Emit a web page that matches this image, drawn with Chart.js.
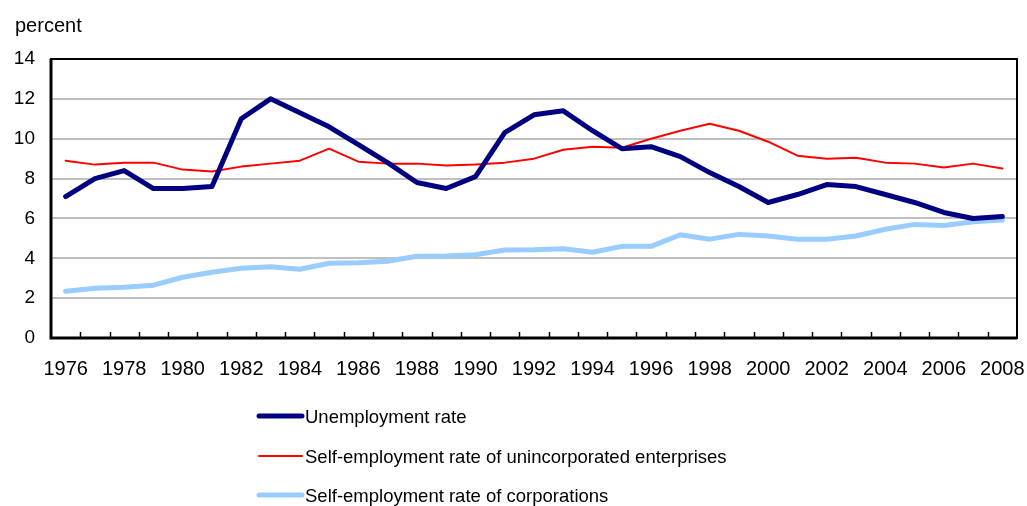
<!DOCTYPE html>
<html>
<head>
<meta charset="utf-8">
<script src="https://cdn.jsdelivr.net/npm/chart.js@4"></script>
<style>
  html, body { margin: 0; padding: 0; background: #fff; }
  #wrap { width: 1027px; height: 506px; }
</style>
</head>
<body>
<div id="wrap"><canvas id="myChart"></canvas></div>
<script>
var years = ['1976','1977','1978','1979','1980','1981','1982','1983','1984','1985','1986',
             '1987','1988','1989','1990','1991','1992','1993','1994','1995','1996','1997',
             '1998','1999','2000','2001','2002','2003','2004','2005','2006','2007','2008'];

var unemployment = [7.1, 8.0, 8.4, 7.5, 7.5, 7.6, 11.0, 12.0, 11.3, 10.6, 9.7,
                    8.8, 7.8, 7.5, 8.1, 10.3, 11.2, 11.4, 10.4, 9.5, 9.6, 9.1,
                    8.3, 7.6, 6.8, 7.2, 7.7, 7.6, 7.2, 6.8, 6.3, 6.0, 6.1];

var unincorporated = [8.9, 8.7, 8.8, 8.8, 8.45, 8.35, 8.6, 8.75, 8.9, 9.5, 8.85,
                      8.75, 8.75, 8.65, 8.7, 8.8, 9.0, 9.45, 9.6, 9.55, 10.0, 10.4,
                      10.75, 10.4, 9.85, 9.15, 9.0, 9.05, 8.8, 8.75, 8.55, 8.75, 8.5];

var corporations = [2.35, 2.5, 2.55, 2.65, 3.05, 3.3, 3.5, 3.58, 3.45, 3.75, 3.78,
                    3.85, 4.1, 4.12, 4.18, 4.42, 4.43, 4.48, 4.3, 4.6, 4.6, 5.18,
                    4.96, 5.2, 5.12, 4.96, 4.96, 5.12, 5.46, 5.7, 5.64, 5.83, 5.92];

var seriesNames = ['Unemployment rate',
                   'Self-employment rate of unincorporated enterprises',
                   'Self-employment rate of corporations'];

var yTicks = [0, 2, 4, 6, 8, 10, 12, 14];

var fontFamily = 'Arial, "Liberation Sans", sans-serif';

// frame, inward x ticks, unit label and stacked legend
var decorations = {
    id: 'decorations',
    afterDatasetsDraw: function (chart) {
        var ctx = chart.ctx;
        var area = chart.chartArea;
        var xs = chart.scales.x;
        var step = (area.right - area.left) / years.length;
        ctx.save();
        ctx.strokeStyle = '#000';
        ctx.lineWidth = 1.5;
        for (var k = 1; k < years.length; k++) {
            var px = Math.round(xs.getPixelForValue(k) - step / 2) + 0.5;
            ctx.beginPath();
            ctx.moveTo(px, area.bottom);
            ctx.lineTo(px, area.bottom - 6);
            ctx.stroke();
        }
        ctx.lineWidth = 2;
        ctx.strokeRect(area.left, area.top, area.right - area.left, area.bottom - area.top);
        ctx.lineWidth = 3;
        ctx.beginPath();
        ctx.moveTo(area.left, area.top);
        ctx.lineTo(area.left, area.bottom);
        ctx.lineTo(area.right, area.bottom);
        ctx.stroke();

        ctx.fillStyle = '#000';
        ctx.font = '20px ' + fontFamily;
        ctx.textBaseline = 'alphabetic';
        ctx.textAlign = 'left';
        ctx.fillText('percent', 15, 32);

        ctx.font = '18.5px ' + fontFamily;
        var rows = [416, 456, 495];
        chart.data.datasets.forEach(function (ds, i) {
            ctx.strokeStyle = ds.borderColor;
            ctx.lineWidth = ds.borderWidth;
            ctx.lineCap = 'round';
            ctx.beginPath();
            ctx.moveTo(259, rows[i]);
            ctx.lineTo(302, rows[i]);
            ctx.stroke();
            ctx.textBaseline = 'middle';
            ctx.fillText(ds.label, 305, rows[i] + 2);
        });
        ctx.restore();
    }
};

var ctx = document.getElementById('myChart').getContext('2d');
var myChart = new Chart(ctx, {
    type: 'line',
    data: {
        labels: years,
        datasets: [{
            label: seriesNames[0],
            data: unemployment,
            borderColor: '#000080',
            borderWidth: 5
        }, {
            label: seriesNames[1],
            data: unincorporated,
            borderColor: '#FF0000',
            borderWidth: 2
        }, {
            label: seriesNames[2],
            data: corporations,
            borderColor: '#99CCFF',
            borderWidth: 5
        }]
    },
    options: {
        responsive: true,
        maintainAspectRatio: false,
        animation: false,
        layout: { padding: { left: 0, top: 59, right: 10, bottom: 128 } },
        elements: {
            point: { radius: 0 },
            line: { tension: 0, borderJoinStyle: 'round', borderCapStyle: 'round' }
        },
        plugins: {
            legend: { display: false },
            tooltip: { enabled: false }
        },
        scales: {
            x: {
                offset: true,
                grid: { display: false, drawTicks: false },
                border: { display: false },
                afterFit: function (axis) {
                    axis.height = 40;
                    axis.paddingLeft = 0;
                    axis.paddingRight = 0;
                },
                ticks: {
                    autoSkip: false,
                    maxRotation: 0,
                    padding: 19,
                    color: '#000',
                    font: { family: fontFamily, size: 20 },
                    callback: function (value, index) {
                        return index % 2 === 0 ? years[index] : '';
                    }
                }
            },
            y: {
                min: yTicks[0],
                max: yTicks[yTicks.length - 1],
                afterFit: function (axis) { axis.width = 51; },
                afterBuildTicks: function (axis) {
                    axis.ticks = yTicks.map(function (v) { return { value: v }; });
                },
                grid: {
                    color: function (c) {
                        return (c.tick.value === 0 || c.tick.value === 14) ? 'rgba(0,0,0,0)' : '#C0C0C0';
                    },
                    lineWidth: 2,
                    drawTicks: false
                },
                border: { display: false },
                ticks: {
                    padding: 16,
                    color: '#000',
                    font: { family: fontFamily, size: 19 }
                }
            }
        }
    },
    plugins: [decorations]
});
</script>
</body>
</html>
